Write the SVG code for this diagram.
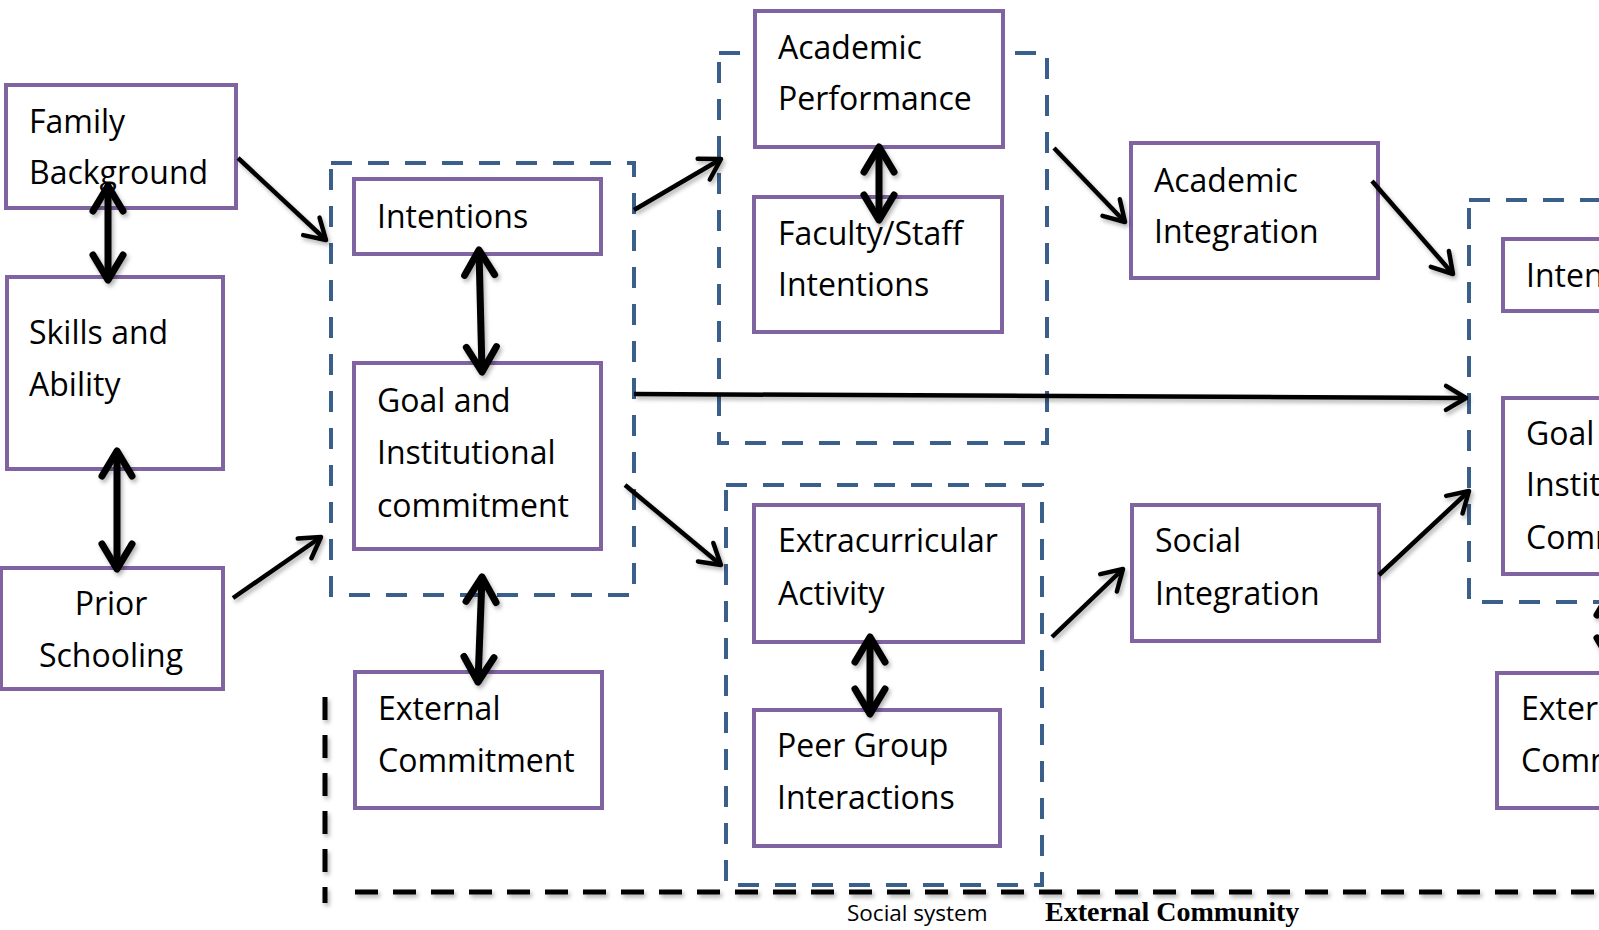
<svg xmlns="http://www.w3.org/2000/svg" width="1599" height="930" viewBox="0 0 1599 930">
<style>
.node{fill:#fff;stroke:#8064A2;stroke-width:4}
.grp{fill:none;stroke:#3A5F8B;stroke-width:4;stroke-dasharray:21 16}
.t{font-family:"Open Sans","Noto Sans",sans-serif;font-size:32px;fill:#000}
.thin{fill:none;stroke:#000;stroke-width:4.5;marker-end:url(#ah)}
.thick{fill:none;stroke:#000;stroke-width:7;marker-start:url(#ahb);marker-end:url(#ahb)}
.bd{fill:none;stroke:#000;stroke-width:5;stroke-dasharray:23 15}
</style>
<defs>
<filter id="sh" x="-20%" y="-20%" width="140%" height="140%">
<feDropShadow dx="2" dy="3" stdDeviation="2" flood-color="#000" flood-opacity="0.3"/>
</filter>
<marker id="ah" markerUnits="userSpaceOnUse" viewBox="-30 -20 40 40" refX="0" refY="0" markerWidth="40" markerHeight="40" orient="auto" overflow="visible">
<path d="M-20,-12 L0,0 L-20,12" fill="none" stroke="#000" stroke-width="4.5" stroke-linecap="round" stroke-linejoin="round"/>
</marker>
<marker id="ahb" markerUnits="userSpaceOnUse" viewBox="-35 -25 50 50" refX="0" refY="0" markerWidth="50" markerHeight="50" orient="auto-start-reverse" overflow="visible">
<path d="M-25,-15 L0,0 L-25,15" fill="none" stroke="#000" stroke-width="7" stroke-linecap="round" stroke-linejoin="round"/>
</marker>
</defs>
<rect width="1599" height="930" fill="#fff"/>

<g id="group-pre-entry">
<rect class="grp" x="331" y="163" width="303" height="432"/>
</g>
<g id="group-academic">
<rect class="grp" x="719" y="53" width="328" height="390"/>
</g>
<g id="group-social">
<rect class="grp" x="726" y="485" width="316" height="400"/>
</g>
<g id="group-outcome">
<rect class="grp" x="1469" y="200" width="260" height="402"/>
</g>

<g id="family-background">
<rect class="node" x="6" y="85" width="230" height="123"/>
<text class="t" x="29" y="133">Family</text>
<text class="t" x="29" y="184">Background</text>
</g>
<g id="skills-ability">
<rect class="node" x="7" y="277" width="216" height="192"/>
<text class="t" x="29" y="344">Skills and</text>
<text class="t" x="29" y="396">Ability</text>
</g>
<g id="prior-schooling">
<rect class="node" x="1" y="568" width="222" height="121"/>
<text class="t" x="111" y="615" text-anchor="middle">Prior</text>
<text class="t" x="111" y="667" text-anchor="middle">Schooling</text>
</g>
<g id="intentions">
<rect class="node" x="354" y="179" width="247" height="75"/>
<text class="t" x="377" y="228">Intentions</text>
</g>
<g id="goal-commitment">
<rect class="node" x="354" y="363" width="247" height="186"/>
<text class="t" x="377" y="412">Goal and</text>
<text class="t" x="377" y="464">Institutional</text>
<text class="t" x="377" y="517">commitment</text>
</g>
<g id="external-commitment">
<rect class="node" x="355" y="672" width="247" height="136"/>
<text class="t" x="378" y="720">External</text>
<text class="t" x="378" y="772">Commitment</text>
</g>
<g id="academic-performance">
<rect class="node" x="755" y="11" width="248" height="136"/>
<text class="t" x="778" y="59">Academic</text>
<text class="t" x="778" y="110">Performance</text>
</g>
<g id="faculty-staff">
<rect class="node" x="754" y="197" width="248" height="135"/>
<text class="t" x="778" y="245">Faculty/Staff</text>
<text class="t" x="778" y="296">Intentions</text>
</g>
<g id="extracurricular">
<rect class="node" x="754" y="505" width="269" height="137"/>
<text class="t" x="778" y="552">Extracurricular</text>
<text class="t" x="778" y="605">Activity</text>
</g>
<g id="peer-group">
<rect class="node" x="754" y="710" width="246" height="136"/>
<text class="t" x="777" y="757">Peer Group</text>
<text class="t" x="777" y="809">Interactions</text>
</g>
<g id="academic-integration">
<rect class="node" x="1131" y="143" width="247" height="135"/>
<text class="t" x="1154" y="192">Academic</text>
<text class="t" x="1154" y="243">Integration</text>
</g>
<g id="social-integration">
<rect class="node" x="1132" y="505" width="247" height="136"/>
<text class="t" x="1155" y="552">Social</text>
<text class="t" x="1155" y="605">Integration</text>
</g>
<g id="intentions-2">
<rect class="node" x="1503" y="239" width="200" height="72"/>
<text class="t" x="1526" y="287">Intentions</text>
</g>
<g id="goal-commitment-2">
<rect class="node" x="1503" y="398" width="200" height="176"/>
<text class="t" x="1526" y="445">Goal and</text>
<text class="t" x="1526" y="496">Institutional</text>
<text class="t" x="1526" y="549">Commitment</text>
</g>
<g id="external-commitment-2">
<rect class="node" x="1497" y="673" width="200" height="135"/>
<text class="t" x="1521" y="720">External</text>
<text class="t" x="1521" y="772">Commitment</text>
</g>

<g id="connectors" filter="url(#sh)">
<path class="thin" d="M238,158 L326,240"/>
<path class="thin" d="M233,598 L321,537"/>
<path class="thin" d="M634,210 L721,159"/>
<path class="thin" d="M625,485 L721,565"/>
<path class="thin" d="M634,394 L1466,398"/>
<path class="thin" d="M1054,148 L1125,222"/>
<path class="thin" d="M1372,181 L1453,274"/>
<path class="thin" d="M1052,637 L1123,569"/>
<path class="thin" d="M1379,575 L1469,491"/>
<path class="thick" d="M108,186 L108,280"/>
<path class="thick" d="M117,451 L117,569"/>
<path class="thick" d="M479,250 L482,372"/>
<path class="thick" d="M482,577 L478,682"/>
<path class="thick" d="M879,147 L879,220"/>
<path class="thick" d="M870,637 L870,714"/>
<path class="thick" d="M1612,590 L1612,663"/>
</g>

<g id="external-community-boundary" filter="url(#sh)">
<path class="bd" d="M325,697 L325,903"/>
<path class="bd" d="M355,892 L1599,892"/>
</g>
<g id="labels">
<text x="847" y="921" style="font-family:'Open Sans','Noto Sans',sans-serif;font-size:22.5px;fill:#000">Social system</text>
<text x="1045" y="921" style="font-family:'Liberation Serif',serif;font-weight:bold;font-size:28px;fill:#000">External Community</text>
</g>
</svg>
